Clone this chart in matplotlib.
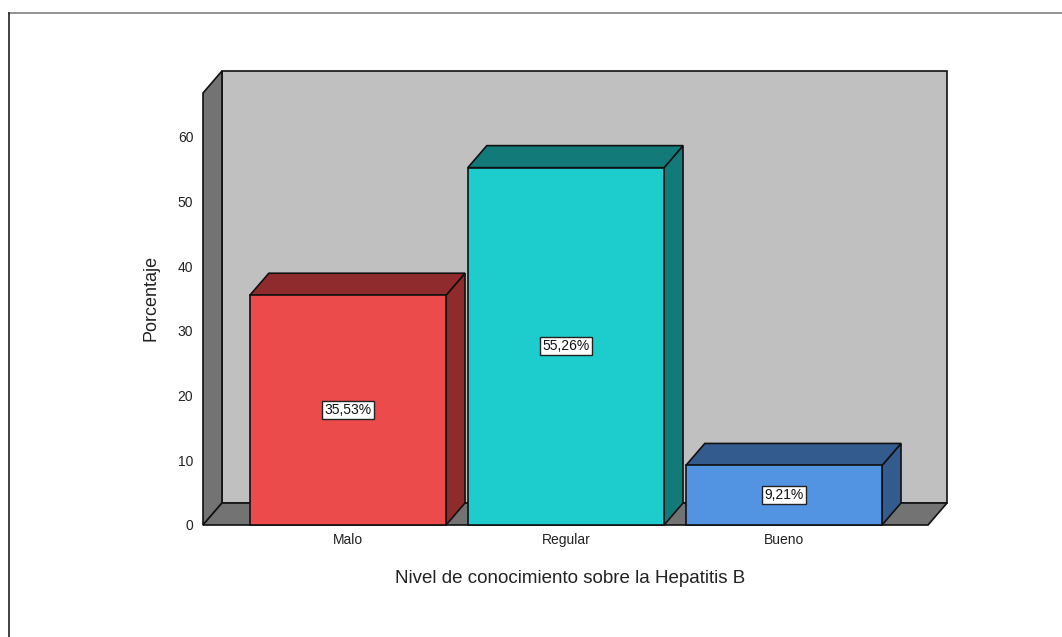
import matplotlib
matplotlib.use("Agg")
import matplotlib.pyplot as plt
from matplotlib.patches import Polygon, Rectangle
from matplotlib.lines import Line2D

categories = ["Malo", "Regular", "Bueno"]
values = [35.53, 55.26, 9.21]
labels = ["35,53%", "55,26%", "9,21%"]
yticks = [0, 10, 20, 30, 40, 50, 60]

front_colors = ["#EC4B4C", "#1DCDCD", "#5394E2"]
dark_colors = ["#8F2B2D", "#127B7A", "#345B8E"]

plt.rcParams['font.family'] = ['Liberation Sans', 'DejaVu Sans']

fig = plt.figure(figsize=(10.62, 6.37), dpi=100)
fig.patch.set_facecolor("white")

# figure border lines
fig.add_artist(Line2D([9/1062, 1.0], [1 - 13/637, 1 - 13/637], transform=fig.transFigure,
                      color="#808080", lw=1.2))
fig.add_artist(Line2D([9/1062, 9/1062], [0, 1 - 13/637], transform=fig.transFigure,
                      color="#202020", lw=1.2))

ax = fig.add_axes([203/1062, (637-525)/637, 744/1062, 454/637])
x_lo, x_hi = -0.665, 2.748
dx, dy = 0.087, 3.4
ytop = 66.8
ax.set_xlim(x_lo, x_hi)
ax.set_ylim(0, ytop + dy)
for s in ax.spines.values():
    s.set_visible(False)
ax.set_facecolor("none")

x_front_right = x_hi - dx
ec = "#111111"
lw = 1.2

# back wall
ax.add_patch(Polygon([(x_lo+dx, dy), (x_hi, dy), (x_hi, ytop+dy), (x_lo+dx, ytop+dy)],
                     closed=True, facecolor="#C0C0C0", edgecolor=ec, lw=lw, clip_on=False))
# left wall
ax.add_patch(Polygon([(x_lo, 0), (x_lo, ytop), (x_lo+dx, ytop+dy), (x_lo+dx, dy)],
                     closed=True, facecolor="#737373", edgecolor=ec, lw=lw, clip_on=False))
# floor
ax.add_patch(Polygon([(x_lo, 0), (x_front_right, 0), (x_hi, dy), (x_lo+dx, dy)],
                     closed=True, facecolor="#737373", edgecolor=ec, lw=lw, clip_on=False))

w = 0.9
for i, (v, fc, dc, lab) in enumerate(zip(values, front_colors, dark_colors, labels)):
    l, r = i - w/2, i + w/2
    ax.add_patch(Polygon([(r, 0), (r+dx, dy), (r+dx, v+dy), (r, v)], closed=True,
                         facecolor=dc, edgecolor=ec, lw=lw, clip_on=False))
    ax.add_patch(Polygon([(l, v), (r, v), (r+dx, v+dy), (l+dx, v+dy)], closed=True,
                         facecolor=dc, edgecolor=ec, lw=lw, clip_on=False))
    ax.add_patch(Rectangle((l, 0), w, v, facecolor=fc, edgecolor=ec, lw=lw, clip_on=False))
    ax.text(i, v/2, lab, ha="center", va="center", fontsize=10, color="#111111",
            bbox=dict(boxstyle="square,pad=0.15", facecolor="white", edgecolor="#222222", lw=1))

ax.set_yticks(yticks)
ax.set_yticklabels([str(t) for t in yticks], fontsize=10, color="#222222")
ax.set_xticks(range(len(categories)))
ax.set_xticklabels(categories, fontsize=10, color="#222222")
ax.tick_params(axis="both", length=0)
ax.tick_params(axis="y", pad=7)
ax.tick_params(axis="x", pad=6)
ax.set_ylabel("Porcentaje", fontsize=13, labelpad=13, color="#222222")
ax.set_xlabel("Nivel de conocimiento sobre la Hepatitis B", fontsize=13.5, labelpad=16,
              color="#222222")
ax.xaxis.label.set_position(((570-203)/744, 0))

fig.savefig("out.png", dpi=100)
